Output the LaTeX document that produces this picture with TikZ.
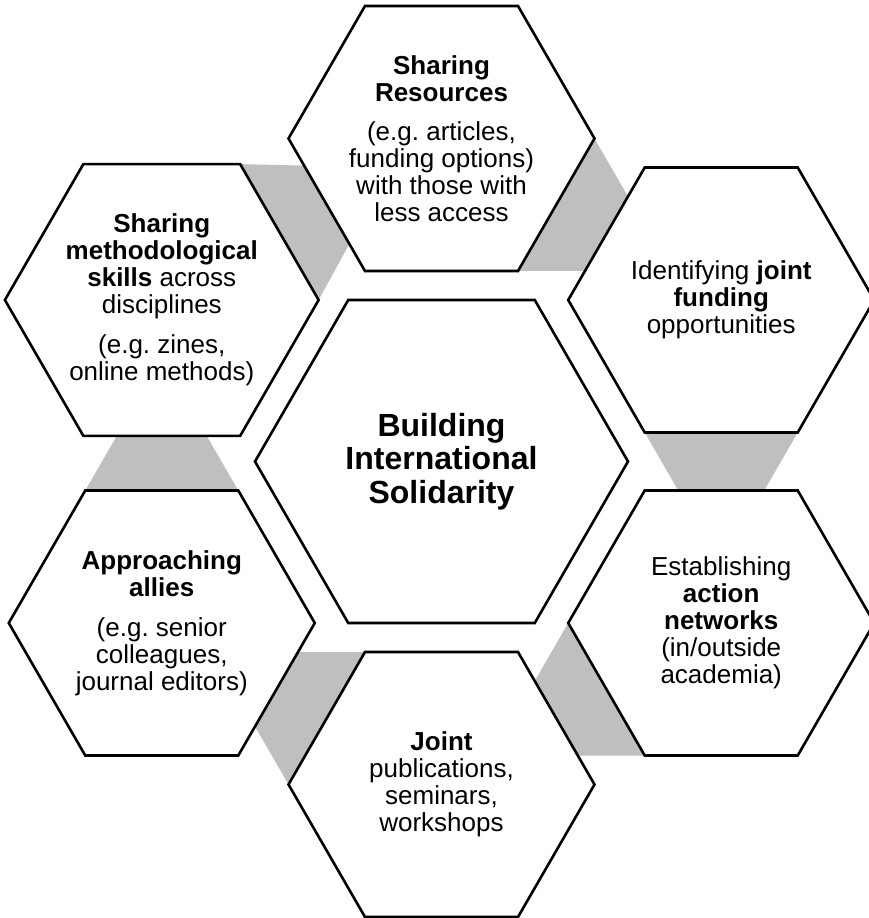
\documentclass[tikz,border=0pt]{standalone}
\usepackage{fontspec}
\setmainfont{Liberation Sans}
\frenchspacing
\usetikzlibrary{shapes.geometric,calc,backgrounds}
\definecolor{bandgray}{RGB}{191,191,191}
\tikzset{
  hexcell/.style={regular polygon,regular polygon sides=6,draw=black,line width=2.6pt,
    fill=white,minimum size=306pt,inner sep=0pt,outer sep=0pt,align=center,
    font=\fontsize{26}{27}\selectfont},
  hexcore/.style={hexcell,minimum size=373pt,font=\fontsize{32}{33.5}\selectfont\bfseries},
  band/.style={fill=bandgray}
}
\begin{document}
\begin{tikzpicture}[x=1pt,y=1pt]
  \useasboundingbox (-441.5,-456.5) rectangle (427.5,461.5);
  \node[hexcore] (core) at (0,0) {Building\\International\\Solidarity};
  \node[hexcell] (res) at (90:323) {\textbf{Sharing}\\\textbf{Resources}\\[12pt](e.g. articles,\\funding options)\\with those with\\less access};
  \node[hexcell] (fund) at (30:323) {Identifying \textbf{joint}\\\textbf{funding}\\opportunities};
  \node[hexcell] (netw) at (-30:323) {Establishing\\\textbf{action}\\\textbf{networks}\\(in/outside\\academia)};
  \node[hexcell] (publ) at (-90:323) {\textbf{Joint}\\publications,\\seminars,\\workshops};
  \node[hexcell] (ally) at (-150:323) {\textbf{Approaching}\\\textbf{allies}\\[13pt](e.g. senior\\colleagues,\\journal editors)};
  \node[hexcell] (meth) at (150:323) {\textbf{Sharing}\\\textbf{methodological}\\\textbf{skills} across\\disciplines\\[13pt](e.g. zines,\\online methods)};
  % grey links between neighbouring cells
  \begin{pgfonlayer}{background}
    \foreach \cell/\i/\j/\a in {meth/6/1/30,res/5/6/-30,fund/4/5/-90,netw/3/4/-150,publ/2/3/150,ally/1/2/90}
      \fill[band] (\cell.corner \i) -- (\cell.corner \j) -- ($(\cell.center)+(\a:265)$) -- cycle;
  \end{pgfonlayer}
\end{tikzpicture}
\end{document}
